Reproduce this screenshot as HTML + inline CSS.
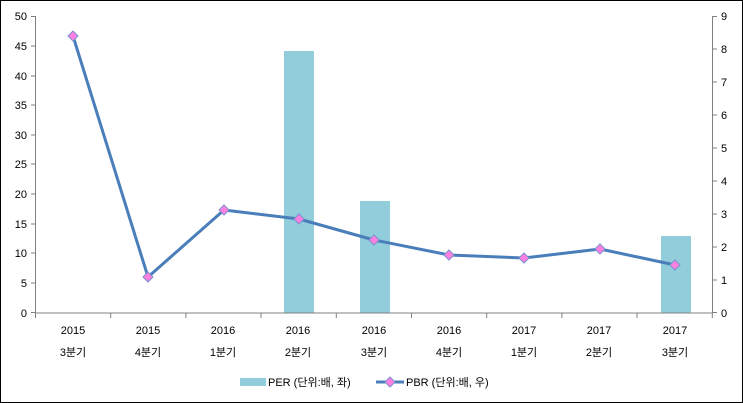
<!DOCTYPE html><html><head><meta charset="utf-8"><style>body{margin:0}svg{display:block}</style></head><body>
<svg width="743" height="403" xmlns="http://www.w3.org/2000/svg" font-family="Liberation Sans, Noto Sans CJK KR, sans-serif" font-size="11" fill="#000">
<rect x="0.5" y="0.5" width="742" height="402" fill="#fff" stroke="#000"/>
<g fill="#92cddc">
<rect x="284" y="51" width="30" height="262"/>
<rect x="360" y="201" width="30" height="112"/>
<rect x="661" y="236" width="30" height="77"/>
</g>
<g stroke="#808080" fill="none">
<path d="M35.5 16V313H712.5V16"/>
<path d="M31 16.5h4M31 46h4M31 76h4M31 105h4M31 135h4M31 164h4M31 194h4M31 224h4M31 253h4M31 283h4M31 312.5h4"/>
<path d="M712 16.5h5M712 49h5M712 82h5M712 115h5M712 148h5M712 181h5M712 214h5M712 247h5M712 280h5M712 312.5h5"/>
<path d="M35.5 313v5M110.7 313v5M185.9 313v5M261 313v5M336.3 313v5M411.5 313v5M486.7 313v5M561.9 313v5M637 313v5M712.3 313v5"/>
</g>
<g text-anchor="end">
<text x="27" y="20">50</text><text x="27" y="50">45</text><text x="27" y="80">40</text><text x="27" y="109">35</text><text x="27" y="139">30</text><text x="27" y="168">25</text><text x="27" y="198">20</text><text x="27" y="228">15</text><text x="27" y="257">10</text><text x="27" y="287">5</text><text x="27" y="317">0</text>
</g>
<g>
<text x="721" y="20">9</text><text x="721" y="53">8</text><text x="721" y="86">7</text><text x="721" y="119">6</text><text x="721" y="152">5</text><text x="721" y="185">4</text><text x="721" y="218">3</text><text x="721" y="251">2</text><text x="721" y="284">1</text><text x="721" y="317">0</text>
</g>
<g text-anchor="middle">
<text x="73" y="334">2015</text><text x="73" y="356">3분기</text>
<text x="148" y="334">2015</text><text x="148" y="356">4분기</text>
<text x="223" y="334">2016</text><text x="223" y="356">1분기</text>
<text x="298" y="334">2016</text><text x="298" y="356">2분기</text>
<text x="374" y="334">2016</text><text x="374" y="356">3분기</text>
<text x="449" y="334">2016</text><text x="449" y="356">4분기</text>
<text x="524" y="334">2017</text><text x="524" y="356">1분기</text>
<text x="599" y="334">2017</text><text x="599" y="356">2분기</text>
<text x="675" y="334">2017</text><text x="675" y="356">3분기</text>
</g>
<polyline points="73,36 148,277 224,210 299,219 374,240 449,255 524,258 600,249 675,265" fill="none" stroke="#4a7ebb" stroke-width="3" stroke-linejoin="round"/>
<g fill="#ff80e0" stroke="#7b8fd0" stroke-width="1">
<path d="M73 31l5 5-5 5-5-5z"/><path d="M148 272l5 5-5 5-5-5z"/><path d="M224 205l5 5-5 5-5-5z"/><path d="M299 214l5 5-5 5-5-5z"/><path d="M374 235l5 5-5 5-5-5z"/><path d="M449 250l5 5-5 5-5-5z"/><path d="M524 253l5 5-5 5-5-5z"/><path d="M600 244l5 5-5 5-5-5z"/><path d="M675 260l5 5-5 5-5-5z"/>
</g>
<rect x="240" y="378" width="26" height="8" fill="#92cddc"/>
<text x="268" y="386">PER (단위:배, 좌)</text>
<line x1="376" y1="382" x2="404" y2="382" stroke="#4a7ebb" stroke-width="3"/>
<path d="M390 377l5 5-5 5-5-5z" fill="#ff80e0" stroke="#7b8fd0"/>
<text x="406" y="386">PBR (단위:배, 우)</text>
</svg>
</body></html>
